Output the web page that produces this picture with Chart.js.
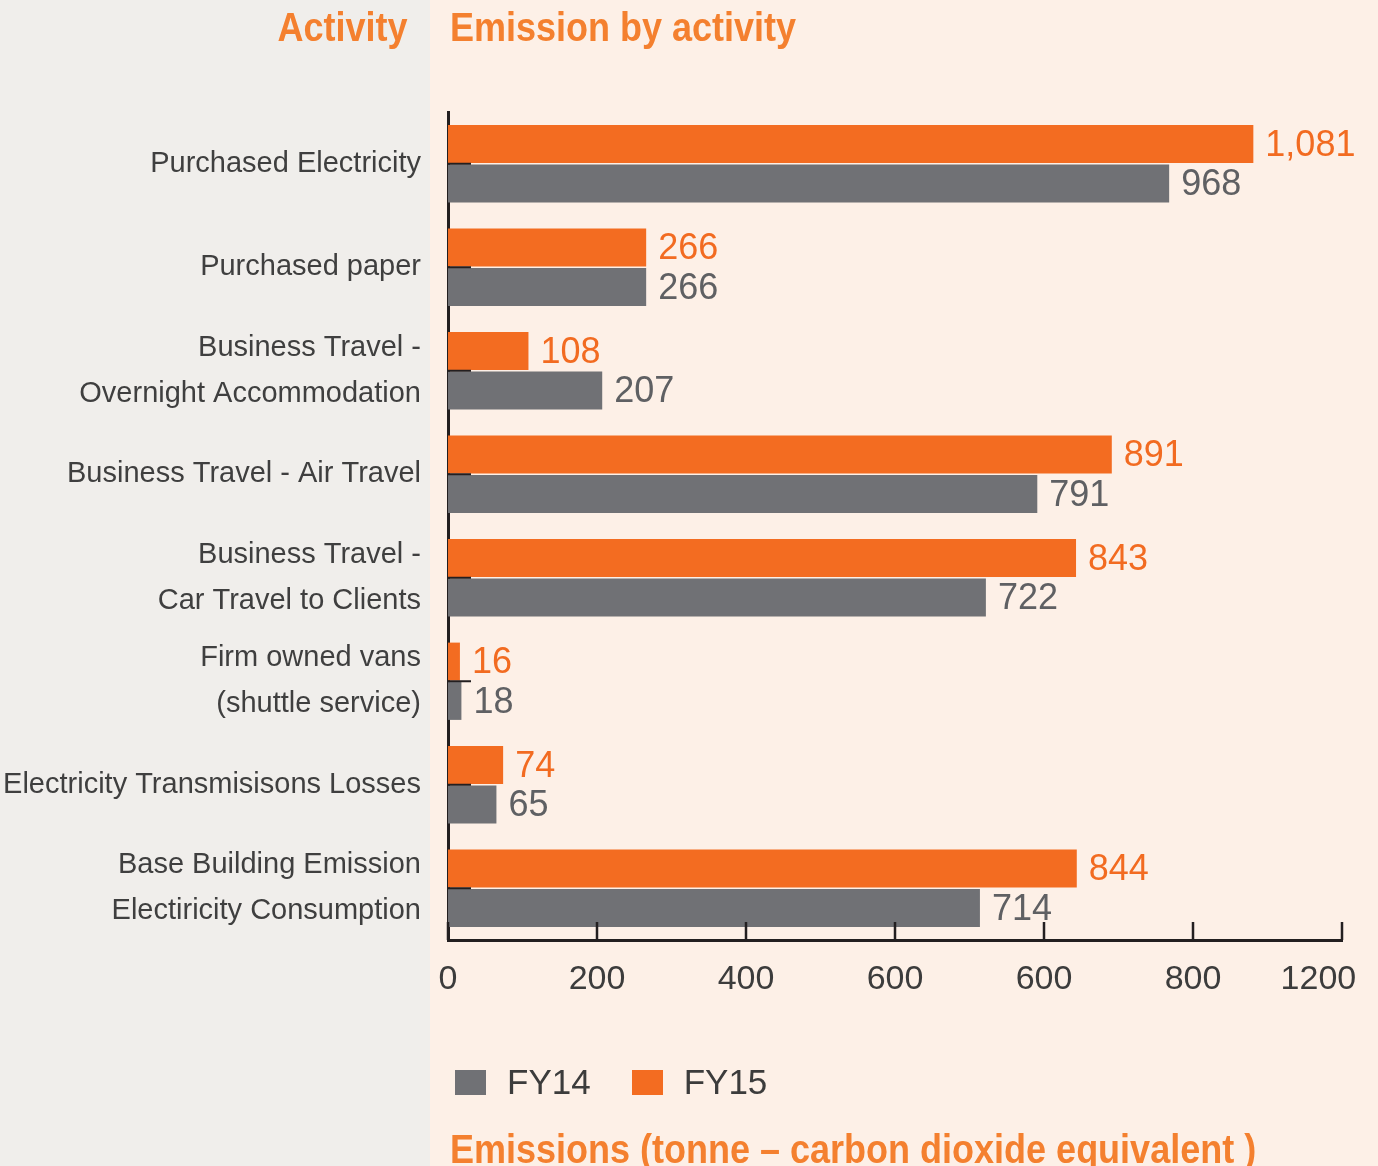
<!DOCTYPE html>
<html>
<head>
<meta charset="utf-8">
<script src="https://cdn.jsdelivr.net/npm/chart.js@4"></script>
<style>
  html, body { margin: 0; padding: 0; width: 1378px; height: 1166px; overflow: hidden; }
  body { font-family: "Liberation Sans", Arial, sans-serif; background: #FDF0E7; position: relative; }
  #leftBg { position: absolute; left: 0; top: 0; width: 430px; height: 1166px; background: #F0EEEB; }
  #grafico { position: absolute; left: 0; top: 0; }
  .titulo { position: absolute; color: #F4802F; font-weight: bold; font-size: 40px; line-height: 40px; white-space: nowrap; transform: scaleX(0.9); }
  #tActividad { top: 7px; right: 971px; transform-origin: right top; }
  #tEmision { top: 7px; left: 450px; transform-origin: left top; }
  #tUnidad { top: 1129px; left: 450px; transform-origin: left top; }
  #leyenda { position: absolute; left: 455px; top: 1062px; display: flex; align-items: center; }
  .item { display: flex; align-items: center; margin-right: 41px; }
  .caja { width: 31px; height: 25px; margin-right: 21px; }
  .item span { font-size: 35px; line-height: 40px; color: #3c3c3c; }
</style>
</head>
<body>
<div id="leftBg"></div>
<canvas id="grafico" width="1378" height="1166"></canvas>
<div class="titulo" id="tActividad">Activity</div>
<div class="titulo" id="tEmision">Emission by activity</div>
<div class="titulo" id="tUnidad">Emissions (tonne – carbon dioxide equivalent )</div>
<div id="leyenda"></div>
<script>
const categorias = [
  "Purchased Electricity",
  "Purchased paper",
  ["Business Travel -", "Overnight Accommodation"],
  "Business Travel - Air Travel",
  ["Business Travel -", "Car Travel to Clients"],
  ["Firm owned vans", "(shuttle service)"],
  "Electricity Transmisisons Losses",
  ["Base Building Emission", "Electiricity Consumption"]
];
const fy14 = [968, 266, 207, 791, 722, 18, 65, 714];
const fy15 = [1081, 266, 108, 891, 843, 16, 74, 844];
const etiquetasX = ["0", "200", "400", "600", "600", "800", "1200"];

const NARANJA = "#F36C21";
const GRIS = "#707175";
const EJE = "#231F20";

// leyenda: FY14 primero, como en el original
const leyenda = document.getElementById("leyenda");
[["FY14", GRIS], ["FY15", NARANJA]].forEach(([nombre, color]) => {
  const item = document.createElement("div");
  item.className = "item";
  item.innerHTML = `<div class="caja" style="background:${color}"></div><span>${nombre}</span>`;
  leyenda.appendChild(item);
});

// valores al final de cada barra
const valores = {
  id: "valores",
  afterDatasetsDraw(chart) {
    const ctx = chart.ctx;
    ctx.save();
    ctx.font = '36px "Liberation Sans", Arial, sans-serif';
    ctx.textBaseline = "middle";
    ctx.textAlign = "left";
    chart.data.datasets.forEach((ds, i) => {
      ctx.fillStyle = ds.colorTexto;
      chart.getDatasetMeta(i).data.forEach((bar, j) => {
        ctx.fillText(ds.data[j].toLocaleString("en-US"), bar.x + 12, bar.y + 2);
      });
    });
    ctx.restore();
  }
};

// marcas hacia dentro en ambos ejes
const marcas = {
  id: "marcas",
  afterDraw(chart) {
    const { ctx, scales: { x, y } } = chart;
    ctx.save();
    ctx.strokeStyle = EJE;
    ctx.lineWidth = 2.5;
    x.ticks.forEach(t => {
      const px = x.getPixelForValue(t.value);
      ctx.beginPath();
      ctx.moveTo(px, x.top);
      ctx.lineTo(px, x.top - 18);
      ctx.stroke();
    });
    ctx.lineWidth = 2;
    y.ticks.forEach((t, i) => {
      const py = y.getPixelForTick(i);
      ctx.beginPath();
      ctx.moveTo(y.right, py);
      ctx.lineTo(y.right + 23, py);
      ctx.stroke();
    });
    ctx.restore();
  }
};

new Chart(document.getElementById("grafico").getContext("2d"), {
  type: "bar",
  data: {
    labels: categorias,
    datasets: [
      { label: "FY15", data: fy15, backgroundColor: NARANJA, colorTexto: "#F26B21",
        barPercentage: 0.96, categoryPercentage: 0.762 },
      { label: "FY14", data: fy14, backgroundColor: GRIS, colorTexto: "#5f6063",
        barPercentage: 0.96, categoryPercentage: 0.762 }
    ]
  },
  options: {
    indexAxis: "y",
    responsive: false,
    animation: false,
    layout: { padding: { top: 112, right: 36, bottom: 0, left: 0 } },
    plugins: { legend: { display: false }, tooltip: { enabled: false } },
    scales: {
      x: {
        min: 0, max: 1200,
        ticks: {
          stepSize: 200,
          padding: 19,
          color: "#3c3c3c",
          font: { family: '"Liberation Sans", Arial, sans-serif', size: 34 },
          callback: (v, i, arr) => i === arr.length - 1 ? etiquetasX[i] + "\u00a0".repeat(5) : etiquetasX[i]
        },
        grid: { display: false, drawTicks: false },
        border: { display: true, color: EJE, width: 3 },
        afterFit(s) { s.height = 226; s.paddingLeft = 0; s.paddingRight = 0; }
      },
      y: {
        ticks: {
          padding: 27,
          color: "#3f3f3f",
          font: { family: '"Liberation Sans", Arial, sans-serif', size: 29, lineHeight: 1.6 }
        },
        grid: { display: false, drawTicks: false },
        border: { display: true, color: EJE, width: 3 },
        afterFit(s) { s.width = 448; s.paddingTop = 0; s.paddingBottom = 0; }
      }
    }
  },
  plugins: [valores, marcas]
});
</script>
</body>
</html>
